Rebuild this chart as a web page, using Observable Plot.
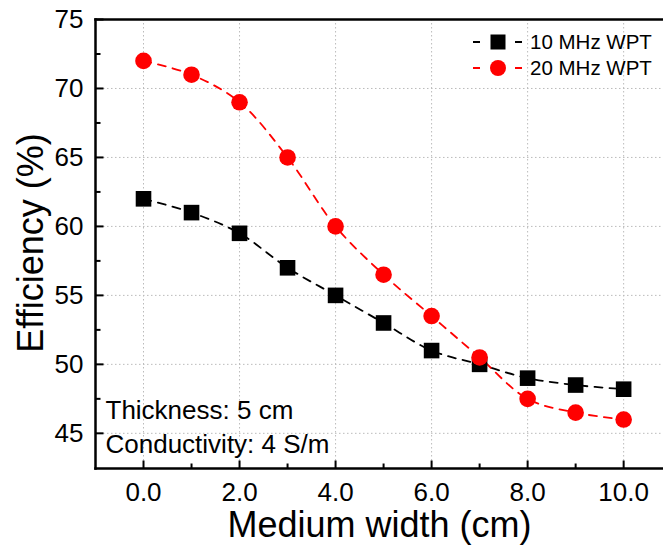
<!DOCTYPE html>
<html><head><meta charset="utf-8">
<script src="https://cdn.jsdelivr.net/npm/d3@7"></script>
<script src="https://cdn.jsdelivr.net/npm/@observablehq/plot@0.6"></script>
<style>
body{margin:0;background:#fff;font-family:"Liberation Sans",Arial,sans-serif;}
#wrap{position:relative;width:663px;height:545px;}
#legend{position:absolute;left:472px;top:29px;font-size:20.5px;}
#legend .row{display:flex;align-items:center;height:26px;white-space:nowrap;}
#legend svg{margin-right:6px;flex:none;}
</style></head><body>
<div id="wrap"><div id="chart"></div><div id="legend"></div></div>
<script>
const widths = [0,1,2,3,4,5,6,7,8,9,10];
const eff10 = [62,61,59.5,57,55,53,51,50,49,48.5,48.2];
const eff20 = [72,71,69,65,60,56.5,53.5,50.5,47.5,46.5,46];
const seriesNames = ["10 MHz WPT","20 MHz WPT"];
const seriesColors = ["#000000","#ff0000"];
const seriesSymbols = ["square","circle"];
const xMajor = [0,2,4,6,8,10];
const xMinor = [1,3,5,7,9];
const yMajor = [45,50,55,60,65,70,75];
const yMinor = [47.5,52.5,57.5,62.5,67.5,72.5];
const notes = ["Thickness: 5 cm","Conductivity: 4 S/m"];

const rows = [];
widths.forEach((w,i)=>{
  rows.push({x:w,y:eff10[i],s:seriesNames[0]});
  rows.push({x:w,y:eff20[i],s:seriesNames[1]});
});

const hTick = len => ({draw(ctx){ctx.moveTo(0,0);ctx.lineTo(len,0);}});
const vTick = len => ({draw(ctx){ctx.moveTo(0,0);ctx.lineTo(0,-len);}});

const font = "Liberation Sans, Arial, sans-serif";
const chart = Plot.plot({
  width: 663, height: 545,
  marginLeft: 95, marginRight: 0, marginTop: 19, marginBottom: 77,
  style: {fontFamily: font, background: "white"},
  x: {domain: [-1, 10.83], axis: null},
  y: {domain: [42.45, 75], axis: null},
  color: {domain: seriesNames, range: seriesColors},
  symbol: {domain: seriesNames, range: seriesSymbols},
  marks: [
    Plot.gridX(xMajor, {stroke: "#bbbbbb", strokeOpacity: 1, strokeDasharray: "1.5,2.5", strokeWidth: 1}),
    Plot.gridY(yMajor, {stroke: "#bbbbbb", strokeOpacity: 1, strokeDasharray: "1.5,2.5", strokeWidth: 1}),
    Plot.line(rows, {x: "x", y: "y", z: "s", stroke: "s", strokeWidth: 1.8, strokeDasharray: "8,7", curve: "catmull-rom"}),
    Plot.dot(rows.filter(d=>d.s===seriesNames[0]), {x: "x", y: "y", symbol: "s", fill: "s", r: 8.8}),
    Plot.dot(rows.filter(d=>d.s===seriesNames[1]), {x: "x", y: "y", symbol: "s", fill: "s", r: 8.3}),
    // inward ticks
    Plot.dot(yMajor, {y: d=>d, frameAnchor: "left", symbol: hTick(8), stroke: "black", strokeWidth: 2}),
    Plot.dot(yMinor, {y: d=>d, frameAnchor: "left", symbol: hTick(5), stroke: "black", strokeWidth: 2}),
    Plot.dot(xMajor, {x: d=>d, frameAnchor: "bottom", symbol: vTick(8), stroke: "black", strokeWidth: 2}),
    Plot.dot(xMinor, {x: d=>d, frameAnchor: "bottom", symbol: vTick(5), stroke: "black", strokeWidth: 2}),
    // frame
    Plot.frame({anchor: "left", stroke: "black", strokeWidth: 2.5}),
    Plot.frame({anchor: "top", stroke: "black", strokeWidth: 2.5}),
    Plot.frame({anchor: "bottom", stroke: "black", strokeWidth: 2.5}),
    // tick labels
    Plot.text(yMajor, {y: d=>d, frameAnchor: "left", text: d=>String(d), textAnchor: "end", dx: -12, fontSize: 26, fill: "black"}),
    Plot.text(xMajor, {x: d=>d, frameAnchor: "bottom", text: d=>d3.format(".1f")(d), lineAnchor: "top", dy: 14, fontSize: 26, fill: "black"}),
    // axis titles
    Plot.text(["Medium width (cm)"], {frameAnchor: "bottom", text: d=>d, lineAnchor: "top", dy: 43, fontSize: 36, fill: "black"}),
    Plot.text(["Efficiency (%)"], {frameAnchor: "left", text: d=>d, textAnchor: "middle", rotate: -90, dx: -64, dy: -1, fontSize: 36, fill: "black"}),
    // notes
    Plot.text([notes[0]], {frameAnchor: "bottom-left", text: d=>d, textAnchor: "start", lineAnchor: "top", dx: 10, dy: -68, fontSize: 26, fill: "black"}),
    Plot.text([notes[1]], {frameAnchor: "bottom-left", text: d=>d, textAnchor: "start", lineAnchor: "top", dx: 10, dy: -34, fontSize: 26, fill: "black"})
  ]
});
document.getElementById("chart").appendChild(chart);

const leg = document.getElementById("legend");
seriesNames.forEach((n,i)=>{
  const row = document.createElement("div"); row.className="row";
  const c = seriesColors[i];
  const m = seriesSymbols[i]==="square"
    ? `<rect x="18.5" y="5.5" width="15" height="15" fill="${c}"/>`
    : `<circle cx="26" cy="13" r="8" fill="${c}"/>`;
  row.innerHTML = `<svg width="52" height="26"><line x1="1" x2="50" y1="13" y2="13" stroke="${c}" stroke-width="2" stroke-dasharray="7,35"/>${m}</svg><span>${n}</span>`;
  leg.appendChild(row);
});
</script></body></html>
